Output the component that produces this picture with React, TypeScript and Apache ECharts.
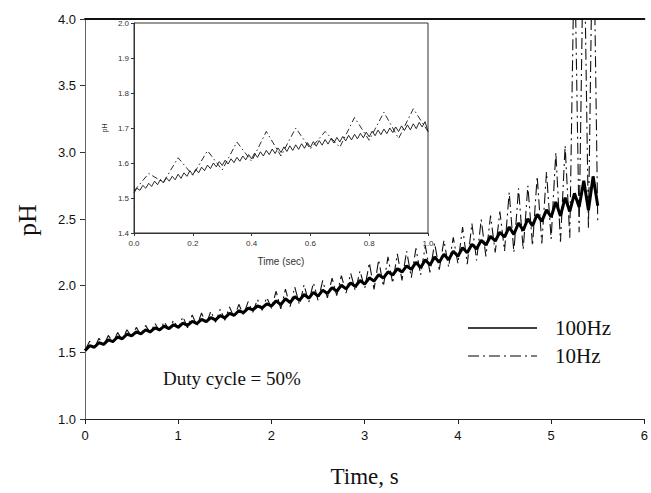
import React, { useEffect, useRef } from "react";
import * as echarts from "echarts";

// ---------- main plot data (time step 0.05 s, 0 … 5.5 s) ----------
const mainStep = 0.05;
const main100Hz = [
  1.513, 1.550, 1.538, 1.572, 1.560, 1.594, 1.581, 1.615, 1.602, 1.636,
  1.623, 1.654, 1.638, 1.669, 1.653, 1.684, 1.668, 1.697, 1.678, 1.707,
  1.688, 1.719, 1.702, 1.733, 1.716, 1.747, 1.730, 1.761, 1.744, 1.775,
  1.758, 1.792, 1.778, 1.812, 1.798, 1.832, 1.818, 1.849, 1.833, 1.864,
  1.848, 1.886, 1.858, 1.902, 1.874, 1.918, 1.890, 1.934, 1.906, 1.950,
  1.922, 1.967, 1.940, 1.985, 1.958, 2.003, 1.976, 2.021, 1.994, 2.039,
  2.012, 2.059, 2.034, 2.082, 2.057, 2.104, 2.080, 2.127, 2.102, 2.148,
  2.122, 2.175, 2.135, 2.195, 2.155, 2.215, 2.175, 2.235, 2.195, 2.258,
  2.221, 2.284, 2.247, 2.311, 2.275, 2.340, 2.305, 2.370, 2.335, 2.400,
  2.365, 2.440, 2.385, 2.470, 2.415, 2.502, 2.448, 2.535, 2.482, 2.568,
  2.515, 2.627, 2.523, 2.660, 2.557, 2.693, 2.590, 2.787, 2.565, 2.820,
  2.600,
];
const main10Hz = [
  1.515, 1.583, 1.530, 1.605, 1.552, 1.627, 1.573, 1.648, 1.594, 1.669,
  1.615, 1.687, 1.630, 1.702, 1.645, 1.717, 1.660, 1.730, 1.670, 1.740,
  1.680, 1.767, 1.684, 1.781, 1.698, 1.795, 1.712, 1.809, 1.726, 1.823,
  1.740, 1.840, 1.760, 1.860, 1.780, 1.880, 1.800, 1.897, 1.815, 1.912,
  1.830, 1.958, 1.826, 1.974, 1.842, 1.990, 1.858, 2.006, 1.874, 2.022,
  1.890, 2.039, 1.908, 2.057, 1.926, 2.075, 1.944, 2.093, 1.962, 2.111,
  1.980, 2.171, 1.972, 2.194, 1.995, 2.216, 2.018, 2.239, 2.040, 2.260,
  2.060, 2.280, 2.080, 2.300, 2.100, 2.320, 2.120, 2.340, 2.140, 2.363,
  2.166, 2.439, 2.162, 2.466, 2.190, 2.495, 2.220, 2.525, 2.250, 2.555,
  2.260, 2.700, 2.250, 2.730, 2.270, 2.750, 2.300, 2.820, 2.317, 2.853,
  2.350, 3.000, 2.330, 3.050, 2.360, 4.600, 2.400, 4.800, 2.430, 5.000,
  2.460,
];

// ---------- inset data (0 … 1 s) ----------
const insetStep100 = 0.01;
const inset100Hz = [
  1.515, 1.528, 1.522, 1.536, 1.528, 1.542, 1.533, 1.548, 1.538, 1.553,
  1.543, 1.558, 1.548, 1.562, 1.552, 1.568, 1.556, 1.572, 1.562, 1.578,
  1.566, 1.582, 1.572, 1.588, 1.578, 1.594, 1.584, 1.600, 1.589, 1.604,
  1.593, 1.608, 1.597, 1.612, 1.601, 1.616, 1.605, 1.620, 1.609, 1.624,
  1.612, 1.628, 1.616, 1.632, 1.620, 1.636, 1.624, 1.640, 1.627, 1.643,
  1.630, 1.646, 1.633, 1.649, 1.636, 1.652, 1.639, 1.655, 1.642, 1.658,
  1.645, 1.661, 1.648, 1.664, 1.651, 1.667, 1.654, 1.670, 1.657, 1.673,
  1.660, 1.676, 1.663, 1.679, 1.666, 1.682, 1.669, 1.685, 1.672, 1.688,
  1.675, 1.691, 1.678, 1.694, 1.681, 1.697, 1.684, 1.700, 1.687, 1.703,
  1.690, 1.706, 1.693, 1.709, 1.695, 1.712, 1.698, 1.716, 1.703, 1.718,
  1.690,
];
const insetStep10 = 0.05;
const inset10Hz = [
  1.520, 1.570, 1.545, 1.615, 1.565, 1.635, 1.580, 1.660, 1.605, 1.690,
  1.620, 1.700, 1.640, 1.690, 1.645, 1.730, 1.665, 1.745, 1.670, 1.755,
  1.690,
];

// ---------- axes / labels ----------
const mainXTicks = { min: 0, max: 6, interval: 1 };
const mainYTicks = { min: 1, max: 4, interval: 0.5 };
const insetXTicks = { min: 0, max: 1, interval: 0.2 };
const insetYTicks = { min: 1.4, max: 2.0, interval: 0.1 };
const legendLabels = ["100Hz", "10Hz"];
const annotation = "Duty cycle = 50%";

const toPairs = (vals: number[], step: number) =>
  vals.map((v, i) => [+(i * step).toFixed(3), v]);

const SERIF = "'Liberation Serif', 'Times New Roman', serif";
const SANS = "'Liberation Sans', Arial, sans-serif";
const DASHDOT = [11, 4, 2, 4];

export default function App() {
  const ref = useRef<HTMLDivElement>(null);
  useEffect(() => {
    if (!ref.current) return;
    const chart = echarts.init(ref.current, undefined, { renderer: "svg" });
    const axisLine = { show: true, lineStyle: { color: "#222", width: 1 } };
    chart.setOption({
      animation: false,
      backgroundColor: "#fff",
      grid: [
        { left: 85, top: 19, width: 562, height: 405 },
        {
          left: 134, top: 23, width: 294, height: 210,
          show: true, borderColor: "#333", borderWidth: 1, backgroundColor: "transparent",
        },
      ],
      xAxis: [
        {
          gridIndex: 0, type: "value", ...mainXTicks,
          axisLine, splitLine: { show: false },
          axisTick: { show: true, inside: false, length: 5, lineStyle: { color: "#222" } },
          axisLabel: { fontFamily: SANS, fontSize: 13, color: "#111", margin: 10 },
          name: "Time, s", nameLocation: "middle", nameGap: 46,
          nameTextStyle: { fontFamily: SERIF, fontSize: 23, color: "#111" },
        },
        {
          gridIndex: 0, type: "value", position: "top", ...mainXTicks,
          axisLine: { show: true, lineStyle: { color: "#111", width: 2 } },
          axisTick: { show: false }, axisLabel: { show: false }, splitLine: { show: false },
        },
        {
          gridIndex: 1, type: "value", ...insetXTicks,
          axisLine: { show: true, lineStyle: { color: "#333", width: 1 } },
          splitLine: { show: false },
          axisTick: { show: true, length: 3, lineStyle: { color: "#333" } },
          axisLabel: {
            fontFamily: SANS, fontSize: 8, color: "#333", margin: 6,
            formatter: (v: number) => v.toFixed(1),
          },
          name: "Time (sec)", nameLocation: "middle", nameGap: 23,
          nameTextStyle: { fontFamily: SANS, fontSize: 10, color: "#333" },
        },
      ],
      yAxis: [
        {
          gridIndex: 0, type: "value", ...mainYTicks,
          axisLine: { show: true, lineStyle: { color: "#555", width: 1 } },
          splitLine: { show: false },
          axisTick: { show: true, length: 5, lineStyle: { color: "#333" } },
          axisLabel: {
            fontFamily: SANS, fontSize: 13, color: "#111", margin: 9,
            formatter: (v: number) => v.toFixed(1),
          },
        },
        {
          gridIndex: 1, type: "value", ...insetYTicks,
          axisLine: { show: true, lineStyle: { color: "#333", width: 1 } },
          splitLine: { show: false },
          axisTick: { show: true, length: 3, lineStyle: { color: "#333" } },
          axisLabel: {
            fontFamily: SANS, fontSize: 8, color: "#333", margin: 5,
            formatter: (v: number) => v.toFixed(1),
          },
        },
        {
          gridIndex: 0, type: "value", position: "right", ...mainYTicks,
          axisLine: { show: true, lineStyle: { color: "#666", width: 1 } },
          axisTick: { show: false }, axisLabel: { show: false }, splitLine: { show: false },
        },
      ],
      series: [
        {
          name: legendLabels[1], type: "line", xAxisIndex: 0, yAxisIndex: 0,
          data: toPairs(main10Hz, mainStep), showSymbol: false, symbol: "none",
          lineStyle: { color: "#111", width: 1.1, type: DASHDOT },
        },
        {
          name: legendLabels[0], type: "line", xAxisIndex: 0, yAxisIndex: 0,
          data: toPairs(main100Hz, mainStep), showSymbol: false, symbol: "none",
          lineStyle: { color: "#000", width: 3 },
        },
        {
          type: "line", xAxisIndex: 2, yAxisIndex: 1,
          data: toPairs(inset10Hz, insetStep10), showSymbol: false, symbol: "none",
          lineStyle: { color: "#111", width: 0.9, type: [6, 3, 1.5, 3] },
        },
        {
          type: "line", xAxisIndex: 2, yAxisIndex: 1,
          data: toPairs(inset100Hz, insetStep100), showSymbol: false, symbol: "none",
          lineStyle: { color: "#111", width: 0.9 },
        },
      ],
      graphic: [
        {
          type: "text", x: 27, y: 220, rotation: Math.PI / 2,
          style: {
            text: "pH", font: `26px ${SERIF}`, fill: "#111",
            align: "center", verticalAlign: "middle",
          },
        },
        {
          type: "text", x: 104, y: 128, rotation: Math.PI / 2,
          style: {
            text: "pH", font: `7px ${SANS}`, fill: "#333",
            align: "center", verticalAlign: "middle",
          },
        },
        {
          type: "line", shape: { x1: 468, y1: 328, x2: 537, y2: 328 },
          style: { stroke: "#000", lineWidth: 1.5 },
        },
        {
          type: "text", x: 555, y: 328,
          style: { text: legendLabels[0], font: `21px ${SERIF}`, fill: "#111", verticalAlign: "middle" },
        },
        {
          type: "line", shape: { x1: 468, y1: 356, x2: 537, y2: 356 },
          style: { stroke: "#000", lineWidth: 1.2, lineDash: DASHDOT },
        },
        {
          type: "text", x: 555, y: 356,
          style: { text: legendLabels[1], font: `21px ${SERIF}`, fill: "#111", verticalAlign: "middle" },
        },
        {
          type: "text", x: 163, y: 378,
          style: { text: annotation, font: `19px ${SERIF}`, fill: "#111", verticalAlign: "middle" },
        },
      ],
    });
    return () => chart.dispose();
  }, []);
  return <div ref={ref} style={{ width: 651, height: 493, position: "absolute", left: 0, top: 0 }} />;
}
